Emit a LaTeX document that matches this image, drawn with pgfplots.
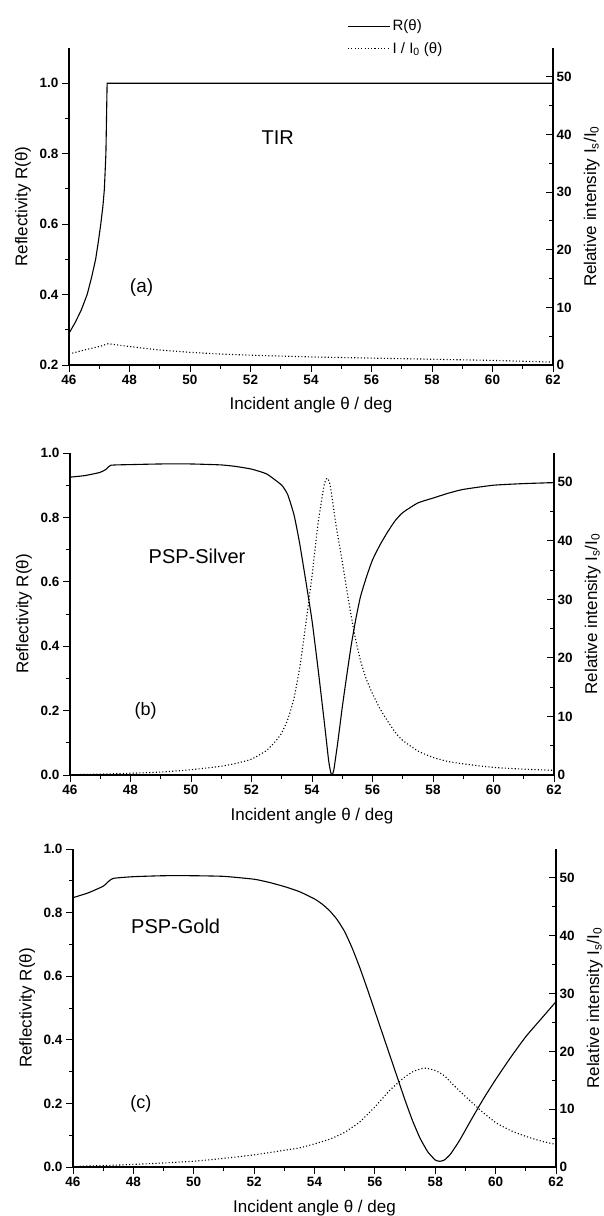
\documentclass[border=0pt]{standalone}
\usepackage{fontspec}
\setmainfont{Liberation Sans}
\usepackage{pgfplots}
\pgfplotsset{compat=1.18}

\tikzset{
  Rline/.style={black, line width=1.1pt},
  Iline/.style={black, line width=1.1pt, dash pattern=on 1.1pt off 2.2pt},
  panellabel/.style={font=\fontsize{20}{20}\selectfont},
}
\pgfplotsset{
  panel/.style={
    scale only axis, width=484pt, height=317pt,
    xmin=46, xmax=62, xtick={46,48,...,62}, minor x tick num=1,
    major tick length=7pt, minor tick length=4pt,
    axis line style={line width=1.1pt,-},
    every outer x axis line/.append style={-},
    every outer y axis line/.append style={-},
    tick style={line width=0.9pt, black},
    tick label style={font=\fontsize{13.5}{13.5}\selectfont\bfseries},
    label style={font=\fontsize{17}{17}\selectfont},
    /pgf/number format/assume math mode=true,
  },
  leftax/.style={panel, axis x line*=bottom, axis y line*=left, tick align=outside,
    minor y tick num=1,
    yticklabel style={/pgf/number format/.cd, fixed, fixed zerofill, precision=1},
    xlabel={Incident angle θ / deg},
    xlabel style={at={(axis description cs:0.5,-0.128)}, anchor=center},
    ylabel={Reflectivity R(θ)},
    ylabel style={at={(axis description cs:-0.095,0.5)}, anchor=center},
  },
  rightax/.style={panel, axis x line=none, axis y line*=right, tick align=inside,
    ymin=0, ymax=55, ytick={0,10,...,50}, minor y tick num=1,
    ylabel={Relative intensity I\textsubscript{s}/I\textsubscript{0}},
    ylabel style={at={(axis description cs:1.08,0.5)}, anchor=center},
  },
}

\begin{document}
\begin{tikzpicture}
\useasboundingbox (0,0) rectangle (603pt,-1216pt);

% ---------- (a) TIR ----------
\begin{axis}[leftax, at={(69pt,-365pt)}, anchor=south west,
  ymin=0.2, ymax=1.1, ytick={0.2,0.4,...,1.0}]
\addplot[Rline] coordinates {
(46,0.29) (46.2,0.32) (46.4,0.355) (46.6,0.40) (46.75,0.45) (46.88,0.50)
(46.97,0.55) (47.05,0.60) (47.12,0.65) (47.17,0.70) (47.22,0.80) (47.26,1.0) (62,1.0)};
\node[panellabel] at (axis cs:52.9,0.845) {TIR};
\node[font=\fontsize{19}{19}\selectfont] at (axis cs:48.4,0.42) {(a)};
\end{axis}
\begin{axis}[rightax, at={(69pt,-365pt)}, anchor=south west,
  legend style={at={(axis description cs:0.575,1.095)}, anchor=north west,
    draw=none, fill=none, inner sep=0pt, row sep=6pt,
    font=\fontsize{15}{15}\selectfont, legend cell align=left},
  legend image code/.code={\draw[#1] (0pt,0pt) -- (42pt,0pt);}]
\addlegendimage{Rline}
\addlegendentry{R(θ)}
\addplot[Iline] coordinates {
(46,1.9) (46.5,2.6) (47,3.2) (47.3,3.7) (48,3.2) (49,2.6) (50,2.2) (51,1.9)
(52,1.7) (53,1.55) (54,1.4) (55,1.3) (56,1.2) (57,1.1) (58,1.0) (59,0.9)
(60,0.8) (61,0.65) (62,0.5)};
\addlegendentry{I / I\textsubscript{0} (θ)}
\end{axis}

% ---------- (b) PSP-Silver ----------
\begin{axis}[leftax, at={(70pt,-775pt)}, anchor=south west, height=322pt,
  ymin=0, ymax=1.0, ytick={0,0.2,...,1.0}]
\addplot[Rline, smooth, tension=0.3] coordinates {
(46,0.925) (46.5,0.93) (47,0.94) (47.2,0.95) (47.35,0.962) (48,0.964) (49,0.966)
(50,0.966) (51,0.963) (51.5,0.958) (52,0.95) (52.5,0.935) (53.0,0.90) (53.2,0.87)
(53.4,0.81) (53.5,0.765) (53.6,0.715) (53.8,0.60) (54.0,0.48) (54.2,0.33)
(54.4,0.17) (54.55,0.045) (54.62,0.008) (54.66,0.0) (54.72,0.015) (54.85,0.10)
(55.0,0.21) (55.15,0.31) (55.3,0.405) (55.45,0.485) (55.6,0.553) (55.8,0.615)
(56.0,0.668) (56.25,0.715) (56.5,0.755) (56.75,0.79) (57.0,0.815) (57.5,0.845)
(58,0.86) (58.5,0.875) (59,0.887) (60,0.9) (61,0.905) (62,0.908)};
\node[panellabel] at (axis cs:50.2,0.68) {PSP-Silver};
\node[font=\fontsize{18}{18}\selectfont] at (axis cs:48.5,0.2) {(b)};
\end{axis}
\begin{axis}[rightax, at={(70pt,-775pt)}, anchor=south west, height=322pt]
\addplot[Iline, smooth, tension=0.3] coordinates {
(46,0.05) (47,0.15) (48,0.3) (49,0.5) (50,0.9) (51,1.5) (51.5,2.0) (52,2.7)
(52.5,4.2) (52.8,5.8) (53,7.2) (53.2,9.5) (53.4,13) (53.6,18.5) (53.8,26)
(54,34) (54.2,43) (54.4,49.5) (54.5,50.7) (54.6,49.5) (54.8,42.5) (55,36.5)
(55.2,30.0) (55.4,24.2) (55.6,19.6) (55.8,16.3) (56.0,13.9) (56.25,11.3)
(56.5,9.2) (56.75,7.3) (57,5.9) (57.5,4.1) (58,3.0) (58.5,2.3) (59,1.9)
(60,1.3) (61,1.0) (62,0.8)};
\end{axis}

% ---------- (c) PSP-Gold ----------
\begin{axis}[leftax, at={(73pt,-1167pt)}, anchor=south west, width=483pt, height=318pt,
  ymin=0, ymax=1.0, ytick={0,0.2,...,1.0}]
\addplot[Rline, smooth, tension=0.3] coordinates {
(46,0.847) (46.5,0.862) (47,0.883) (47.2,0.9) (47.35,0.908) (48,0.913) (49,0.916)
(50,0.916) (51,0.914) (52,0.905) (52.5,0.895) (53,0.882) (53.5,0.866) (54,0.843)
(54.25,0.827) (54.5,0.806) (54.75,0.778) (55,0.74) (55.25,0.688) (55.5,0.627)
(55.75,0.56) (56,0.49) (56.25,0.42) (56.5,0.35) (56.75,0.28) (57,0.21)
(57.25,0.145) (57.5,0.09) (57.75,0.048) (58.0,0.022) (58.15,0.018) (58.3,0.022)
(58.5,0.04) (58.8,0.083) (59.2,0.15) (59.6,0.215) (60,0.275) (60.5,0.345)
(61,0.41) (61.5,0.465) (62,0.52)};
\node[panellabel] at (axis cs:49.4,0.757) {PSP-Gold};
\node[font=\fontsize{18}{18}\selectfont] at (axis cs:48.25,0.2) {(c)};
\end{axis}
\begin{axis}[rightax, at={(73pt,-1167pt)}, anchor=south west, width=483pt, height=318pt]
\addplot[Iline, smooth, tension=0.3] coordinates {
(46,0.1) (47,0.25) (48,0.45) (49,0.7) (50,1.0) (51,1.5) (52,2.1) (53,2.9)
(53.5,3.3) (54,4.0) (54.5,4.8) (55,6.0) (55.5,7.8) (56,10.4) (56.5,13.3)
(57,15.6) (57.3,16.6) (57.65,17.1) (58,16.7) (58.3,15.8) (58.6,14.2) (59,12.2)
(59.5,9.8) (60,7.7) (60.5,6.3) (61,5.3) (61.5,4.5) (62,3.9)};
\end{axis}
\end{tikzpicture}
\end{document}
